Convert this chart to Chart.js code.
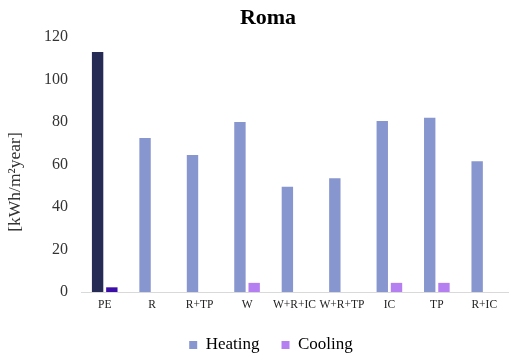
<!DOCTYPE html>
<html>
<head>
<meta charset="utf-8">
<script src="https://cdn.jsdelivr.net/npm/chart.js@4.4.1/dist/chart.umd.min.js"></script>
<style>
    html, body { margin: 0; padding: 0; background: #fff; }
    #wrap { width: 509px; height: 357px; }
</style>
</head>
<body>
<div id="wrap"><canvas id="romaChart" width="509" height="357"></canvas></div>
<script>
const categories = ['PE', 'R', 'R+TP', 'W', 'W+R+IC', 'W+R+TP', 'IC', 'TP', 'R+IC'];
const heating    = [113, 72.5, 64.5, 80, 49.5, 53.5, 80.5, 82, 61.5];
const cooling    = [2.2, 0, 0, 4.3, 0, 0, 4.3, 4.3, 0];
const yTicks     = [0, 20, 40, 60, 80, 100, 120];

// first bar (PE) has its own darker shade
const heatColors = categories.map((c, i) => i === 0 ? '#262b56' : '#8796cf');
const coolColors = categories.map((c, i) => i === 0 ? '#3b0ea8' : '#b57ff2');

const serif = '"Liberation Serif", "DejaVu Serif", serif';

// chart title and y-axis title drawn by hand so they sit where the original has them
const titlePlugin = {
    id: 'romaTitle',
    afterLayout(chart) {
        // nudge the legend right and up a little
        const lg = chart.legend;
        const h = lg.bottom - lg.top;
        lg.left += 17;
        lg.right += 17;
        lg.top = 314.5;
        lg.bottom = lg.top + h;
    },
    afterDraw(chart) {
        const ctx = chart.ctx;
        ctx.save();
        ctx.font = 'bold 22px ' + serif;
        ctx.fillStyle = '#000';
        ctx.textAlign = 'center';
        ctx.textBaseline = 'middle';
        ctx.fillText('Roma', 268, 18);

        ctx.translate(15, 182);
        ctx.rotate(-Math.PI / 2);
        ctx.font = '17.5px ' + serif;
        ctx.fillStyle = '#333';
        ctx.fillText('[kWh/m\u00B2year]', 0, 0);
        ctx.restore();
    }
};

const ctx = document.getElementById('romaChart').getContext('2d');
new Chart(ctx, {
    type: 'bar',
    data: {
        labels: categories,
        datasets: [{
            label: 'Heating',
            data: heating,
            backgroundColor: heatColors,
            categoryPercentage: 0.6,
            barPercentage: 0.8
        }, {
            label: 'Cooling',
            data: cooling,
            backgroundColor: coolColors,
            categoryPercentage: 0.6,
            barPercentage: 0.8
        }]
    },
    options: {
        responsive: false,
        animation: false,
        layout: { padding: { top: 37, right: 1, left: 0, bottom: -6 } },
        plugins: {
            legend: {
                position: 'bottom',
                labels: {
                    font: { family: serif, size: 17 },
                    color: '#000',
                    boxWidth: 8,
                    boxHeight: 8,
                    padding: 22,
                    generateLabels: function(chart) {
                        return [
                            { text: 'Heating', fillStyle: '#8796cf', strokeStyle: '#8796cf', lineWidth: 0, datasetIndex: 0 },
                            { text: 'Cooling', fillStyle: '#b57ff2', strokeStyle: '#b57ff2', lineWidth: 0, datasetIndex: 1 }
                        ];
                    }
                }
            },
            tooltip: { enabled: false }
        },
        scales: {
            x: {
                afterFit: function(scale) { scale.height = 22; },
                grid: { display: false, drawTicks: false },
                border: { color: '#d9d9d9', width: 1 },
                ticks: {
                    font: { family: serif, size: 11.5 },
                    color: '#222',
                    padding: 6,
                    maxRotation: 0,
                    autoSkip: false
                }
            },
            y: {
                min: 0,
                max: 120,
                afterBuildTicks: function(scale) {
                    scale.ticks = yTicks.map(v => ({ value: v }));
                },
                afterFit: function(scale) { scale.width = 81; },
                grid: { display: false, drawTicks: false },
                border: { display: false },
                ticks: {
                    font: { family: serif, size: 16 },
                    color: '#333',
                    padding: 13
                }
            }
        }
    },
    plugins: [titlePlugin]
});
</script>
</body>
</html>
